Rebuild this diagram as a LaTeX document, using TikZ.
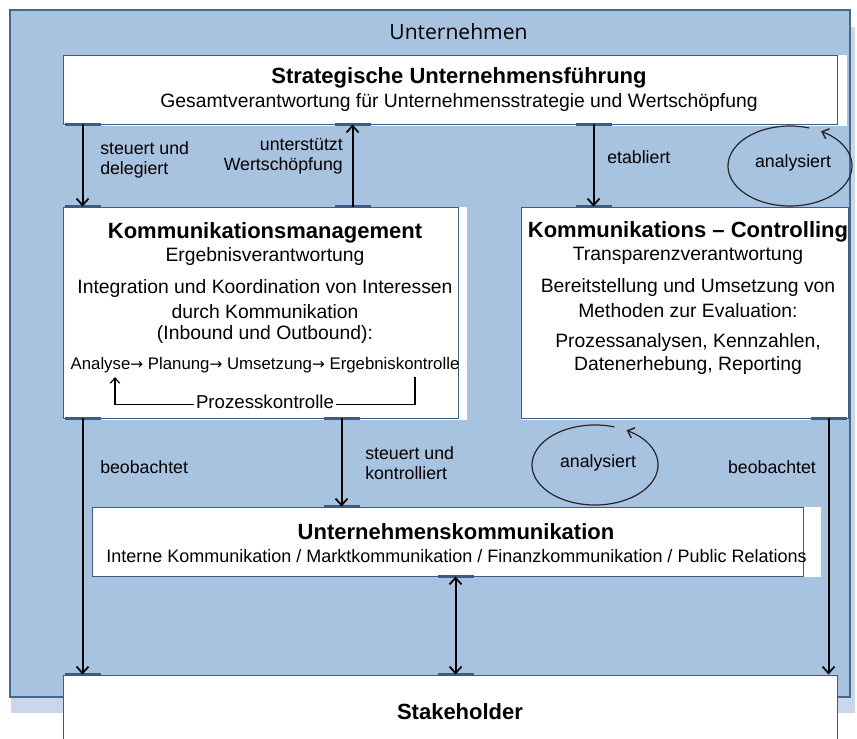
\documentclass[tikz,border=0pt]{standalone}
\usepackage{fontspec}
\setmainfont{Liberation Sans}
\newfontfamily\headfont{Open Sans}
\newfontfamily\symfont{DejaVu Sans}
\usetikzlibrary{arrows.meta,positioning,calc,shapes}
\newdimen\pxu
\pxu=0.75pt
\newcommand{\nextstep}{{\symfont\fontsize{11.5}{14}\selectfont →}}
\definecolor{firmfill}{RGB}{167,195,223}
\definecolor{firmline}{RGB}{72,102,140}
\definecolor{boxline}{RGB}{60,92,135}
\definecolor{shadowfill}{RGB}{200,216,234}
\tikzset{
  firm/.style={fill=firmfill, draw=firmline, line width=0.8pt},
  box/.style={draw=boxline, line width=0.7pt, fill=white, inner sep=0pt},
  flowln/.style={-{Straight Barb[length=5pt,width=9pt,line width=1.3pt]}, line width=1.5pt},
  bothln/.style={{Straight Barb[length=5pt,width=9pt,line width=1.3pt]}-{Straight Barb[length=5pt,width=9pt,line width=1.3pt]}, line width=1.5pt},
  loopln/.style={line width=0.9pt},
  ringln/.style={-{Straight Barb[length=4.5pt,width=8pt,line width=1.1pt]}, line width=0.9pt, black!85},
  tickln/.style={line width=1.8pt, boxline},
  headtxt/.style={font=\headfont\fontsize{15.8}{18}\selectfont, inner sep=0pt},
  ttl/.style={font=\fontsize{16.5}{19}\selectfont\bfseries, inner sep=0pt},
  sub/.style={font=\fontsize{14.5}{17}\selectfont, inner sep=0pt},
  small/.style={font=\fontsize{13.5}{16}\selectfont, inner sep=0pt},
  lbl/.style={font=\fontsize{13.3}{15.3}\selectfont, inner sep=0pt},
}

\begin{document}
\begin{tikzpicture}[x=0.75pt,y=0.75pt]
  \useasboundingbox (0,0) rectangle (857,739);
  \clip (0,0) rectangle (857,739);
  % Unternehmen frame
  \fill[shadowfill] (11,26) rectangle (855,712);
  \draw[firm] (10,42) rectangle (850,729);
  \node[headtxt] (firmttl) at (458.5,707) {Unternehmen};
  % white overhangs behind the boxes
  \fill[white] (63,613) rectangle (847,684);
  \fill[white] (63,319) rectangle (467,532);
  \fill[white] (521,319) rectangle (848,532);
  \fill[white] (92,162) rectangle (821,232);
  % Boxes
  \node[box, minimum width=774\pxu, minimum height=69\pxu] (top) at (450,649.5) {};
  \node[box, minimum width=395\pxu, minimum height=211\pxu] (km) at (260.5,426.5) {};
  \node[box, minimum width=327\pxu, minimum height=211\pxu] (kc) at (684.5,426.5) {};
  \node[box, minimum width=711\pxu, minimum height=69\pxu] (uk) at (447.5,197.5) {};
  \node[box, minimum width=774\pxu, minimum height=100\pxu] (st) at (450,14) {};
  % Strategische Fuehrung
  \node[ttl] (topttl) at (459,661) {Strategische Unternehmensführung};
  \node[sub] (topsub) at (459,636) {Gesamtverantwortung für Unternehmensstrategie und Wertschöpfung};
  % Kommunikationsmanagement
  \node[ttl] (kmttl) at (265,506) {Kommunikationsmanagement};
  \node[sub] (kmsub) at (265,482) {Ergebnisverantwortung};
  \node[sub] (kmtx1) at (265,450) {Integration und Koordination von Interessen};
  \node[sub] (kmtx2) at (265,427) {durch Kommunikation};
  \node[sub] (kmtx3) at (265,404) {(Inbound und Outbound):};
  \node[font=\fontsize{12.6}{15}\selectfont, inner sep=0pt] (steps) at (265,374)
    {Analyse\nextstep\ Planung\nextstep\ Umsetzung\nextstep\ Ergebniskontrolle};
  \node[font=\fontsize{14}{16}\selectfont, inner xsep=2\pxu, inner ysep=0pt] (proz) at (265,337) {Prozesskontrolle};
  \coordinate (ergb) at (415,362);
  \coordinate (anb) at (115,362);
  \draw[loopln] (ergb) |- ([yshift=-2.5\pxu]proz.east);
  \draw[loopln, -{Straight Barb[length=4pt,width=7pt,line width=0.9pt]}] ([yshift=-2.5\pxu]proz.west) -| (anb);
  % Kommunikations-Controlling
  \node[ttl] (kcttl) at (688,507) {Kommunikations – Controlling};
  \node[sub] (kcsub) at (688,483) {Transparenzverantwortung};
  \node[sub] (kctx1) at (688,451) {Bereitstellung und Umsetzung von};
  \node[sub] (kctx2) at (688,428) {Methoden zur Evaluation:};
  \node[sub] (kctx3) at (688,396) {Prozessanalysen, Kennzahlen,};
  \node[sub] (kctx4) at (688,373) {Datenerhebung, Reporting};
  % Unternehmenskommunikation
  \node[ttl] (ukttl) at (456,207) {Unternehmenskommunikation};
  \node[small] (uksub) at (456.5,183) {Interne Kommunikation / Marktkommunikation / Finanzkommunikation / Public Relations};
  % Stakeholder
  \node[ttl] (stttl) at (460,27) {Stakeholder};
  % Arrow ends
  \coordinate (a1s) at ($(top.south west)+(20,0)$);
  \coordinate (a1e) at ($(km.north west)+(20,0)$);
  \coordinate (a2s) at ($(km.north west)+(290,0)$);
  \coordinate (a2e) at ($(top.south west)+(290,0)$);
  \coordinate (a3s) at ($(top.south west)+(531,0)$);
  \coordinate (a3e) at ($(kc.north west)+(73,0)$);
  \coordinate (a4s) at ($(km.south west)+(20,0)$);
  \coordinate (a4e) at ($(st.north west)+(20,0)$);
  \coordinate (a5s) at ($(km.south west)+(279,0)$);
  \coordinate (a5e) at ($(uk.north west)+(250,0)$);
  \coordinate (a6s) at ($(kc.south west)+(308,0)$);
  \coordinate (a6e) at ($(st.north west)+(766,0)$);
  \coordinate (a7s) at ($(uk.south west)+(364,0)$);
  \coordinate (a7e) at ($(st.north west)+(393,0)$);
  \foreach \c in {a1s,a1e,a2s,a2e,a3s,a3e,a4s,a4e,a5s,a5e,a6s,a7s,a7e}
    \draw[tickln] ($(\c)+(-18,0)$) -- ($(\c)+(18,0)$);
  % Connectors
  \draw[flowln] (a1s) -- (a1e);
  \draw[flowln] (a2s) -- (a2e);
  \draw[flowln] (a3s) -- (a3e);
  \draw[flowln] (a4s) -- (a4e);
  \draw[flowln] (a5s) -- (a5e);
  \draw[flowln] (a6s) -- (a6e);
  \draw[bothln] (a7s) -- (a7e);
  % Labels
  \node[lbl, anchor=west, align=left] (lsteu) at (100,579) {steuert und\\delegiert};
  \node[lbl, anchor=east, align=right] (lwert) at (343,583) {unterstützt\\Wertschöpfung};
  \node[lbl, anchor=west] (letab) at (607,582) {etabliert};
  \node[lbl, anchor=west] (lbeo1) at (100,272) {beobachtet};
  \node[lbl, anchor=west, align=left] (lkont) at (365,276) {steuert und\\kontrolliert};
  \node[lbl] (lbeo2) at (772,272) {beobachtet};
  % analysiert rings
  \coordinate (ring1) at (790,573);
  \node[lbl] (ana1) at (793,576) {analysiert};
  \draw[ringln] ([shift={(72:62 and 40)}]ring1) arc[start angle=72, end angle=420, x radius=62, y radius=40];
  \coordinate (ring2) at (595,274);
  \node[lbl] (ana2) at (598,276) {analysiert};
  \draw[ringln] ([shift={(72:63 and 40)}]ring2) arc[start angle=72, end angle=420, x radius=63, y radius=40];
\end{tikzpicture}
\end{document}
